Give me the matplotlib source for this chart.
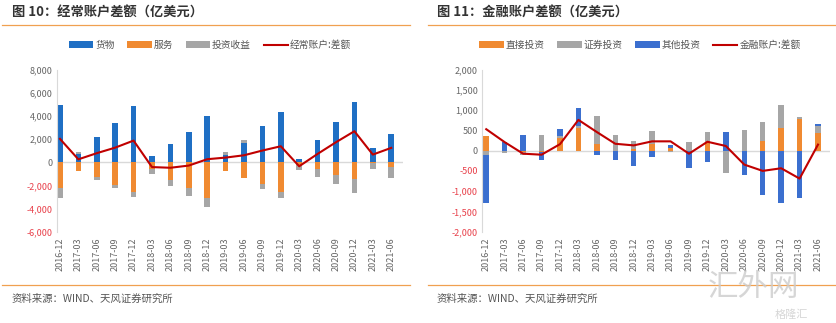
import matplotlib
matplotlib.use("Agg")
from matplotlib import pyplot as plt
import numpy as np

plt.rcParams['font.family'] = ['Noto Sans CJK SC', 'DejaVu Sans']

quarters = ['2016-12', '2017-03', '2017-06', '2017-09', '2017-12', '2018-03', '2018-06',
            '2018-09', '2018-12', '2019-03', '2019-06', '2019-09', '2019-12', '2020-03',
            '2020-06', '2020-09', '2020-12', '2021-03', '2021-06']

# 图10 经常账户
goods = [4960, 690, 2220, 3430, 4870, 580, 1610, 2650, 4030, 630, 1640, 3140, 4380, 290,
         1930, 3520, 5240, 1240, 2450]
services = [-2250, -750, -1300, -1960, -2590, -630, -1500, -2220, -3110, -750, -1380, -1870,
            -2590, -250, -630, -1100, -1440, -100, -430]
income = [-860, 230, -230, -290, -380, -380, -520, -720, -780, 290, 260, -430, -520, -450,
          -610, -800, -1210, -480, -900]
current = [2020, 250, 780, 1260, 1870, -420, -480, -290, 260, 400, 600, 1010, 1380, -350,
           720, 1730, 2680, 660, 1240]

# 图11 金融账户
fdi = [350, 0, -40, -30, 320, 560, 170, 0, 40, 170, 70, 0, 210, 0, 0, 230, 560, 770, 440]
portfolio = [-100, -60, -60, 385, 30, 50, 680, 380, 210, 310, -40, 220, 240, -560, 500, 490, 570, 60, 170]
other = [-1200, 210, 380, -200, 180, 450, -115, -220, -370, -160, 80, -440, -280, 460, -610,
         -1100, -1300, -1180, 50]
financial = [530, 210, -75, -100, 160, 760, 460, 170, 130, 230, 230, -75, 220, 115, -345,
             -500, -435, -690, 150]

C_BLUE = '#1f6fc4'
C_BLUE2 = '#3b6fcf'
C_ORANGE = '#f08a31'
C_GRAY = '#a6a6a6'
C_RED = '#c00000'
C_LINE = '#f0a050'


def stacked(ax, x, series, colors, labels, width):
    pos = np.zeros(len(x))
    neg = np.zeros(len(x))
    for vals, c, lab in zip(series, colors, labels):
        v = np.array(vals, dtype=float)
        bottom = np.where(v >= 0, pos, neg)
        ax.bar(x, v, width, bottom=bottom, color=c, label=lab, zorder=2)
        pos = pos + np.where(v >= 0, v, 0)
        neg = neg + np.where(v < 0, v, 0)


def style(ax, yticks, ylim, xlim):
    ax.set_ylim(ylim)
    ax.set_xlim(xlim)
    ax.set_yticks(yticks)
    ax.set_yticklabels([f'{t:,}' for t in yticks], fontsize=6.5)
    for t, lab in zip(yticks, ax.get_yticklabels()):
        lab.set_color('#e8404a' if t < 0 else '#666666')
    ax.set_xticks(range(len(quarters)))
    ax.set_xticklabels(quarters, rotation=90, fontsize=6.5, color='#666666')
    ax.tick_params(axis='both', length=0, pad=3)
    ax.tick_params(axis='x', pad=4)
    for s in ['top', 'right', 'bottom']:
        ax.spines[s].set_visible(False)
    ax.spines['left'].set_color('#d9d9d9')
    ax.axhline(0, color='#d9d9d9', lw=1, zorder=1)


W, H = 836, 323
fig = plt.figure(figsize=(W / 100, H / 100), dpi=100)

x = np.arange(len(quarters))
order = [1, 2, 3, 0]

# left panel
ax1 = fig.add_axes([57 / W, (H - 231.6) / H, 346 / W, 161.9 / H])
stacked(ax1, x, [goods, services, income], [C_BLUE, C_ORANGE, C_GRAY],
        ['货物', '服务', '投资收益'], 0.3)
ax1.plot(x, current, color=C_RED, lw=1.5, label='经常账户:差额', zorder=3)
style(ax1, list(range(-6000, 8001, 2000)), (-6000, 8000), (-0.16, 18.64))
h, l = ax1.get_legend_handles_labels()
ax1.legend([h[i] for i in order], [l[i] for i in order], ncol=4, frameon=False,
           fontsize=7, loc='center', bbox_to_anchor=(210 / W, (H - 45) / H),
           bbox_transform=fig.transFigure, handlelength=2.5, handleheight=0.6,
           columnspacing=1.3, handletextpad=0.2, labelcolor='#555555')

# right panel
ax2 = fig.add_axes([482 / W, (H - 231.6) / H, 348 / W, 161.9 / H])
stacked(ax2, x, [fdi, portfolio, other], [C_ORANGE, C_GRAY, C_BLUE2],
        ['直接投资', '证券投资', '其他投资'], 0.3)
ax2.plot(x, financial, color=C_RED, lw=1.5, label='金融账户:差额', zorder=3)
style(ax2, list(range(-2000, 2001, 500)), (-2000, 2000), (-0.23, 18.65))
h, l = ax2.get_legend_handles_labels()
ax2.legend([h[i] for i in order], [l[i] for i in order], ncol=4, frameon=False,
           fontsize=7, loc='center', bbox_to_anchor=(640 / W, (H - 45) / H),
           bbox_transform=fig.transFigure, handlelength=2.5, handleheight=0.6,
           columnspacing=1.3, handletextpad=0.2, labelcolor='#555555')

# titles, rules and source notes
fig.text(12 / W, (H - 13) / H, '图 10：经常账户差额（亿美元）', fontsize=9.5,
         fontweight='bold', color='#333333', va='center')
fig.text(437 / W, (H - 13) / H, '图 11：金融账户差额（亿美元）', fontsize=9.5,
         fontweight='bold', color='#333333', va='center')
for x0, x1 in [(2, 410), (428, 836)]:
    fig.add_artist(plt.Line2D([x0 / W, x1 / W], [(H - 24.5) / H] * 2, color=C_LINE, lw=0.9))
    fig.add_artist(plt.Line2D([x0 / W, x1 / W], [(H - 285) / H] * 2, color=C_LINE, lw=0.9))
fig.text(12 / W, (H - 299) / H, '资料来源：WIND、天风证券研究所', fontsize=7.5,
         color='#555555', va='center')
fig.text(437 / W, (H - 299) / H, '资料来源：WIND、天风证券研究所', fontsize=7.5,
         color='#555555', va='center')

# watermark
fig.text(708 / W, (H - 288) / H, '汇外网', fontsize=22, color='#cccccc', va='center', alpha=0.8)
fig.text(775 / W, (H - 315) / H, '格隆汇', fontsize=8, color='#cccccc', va='center', alpha=0.8)

fig.savefig('out.png', dpi=100)
